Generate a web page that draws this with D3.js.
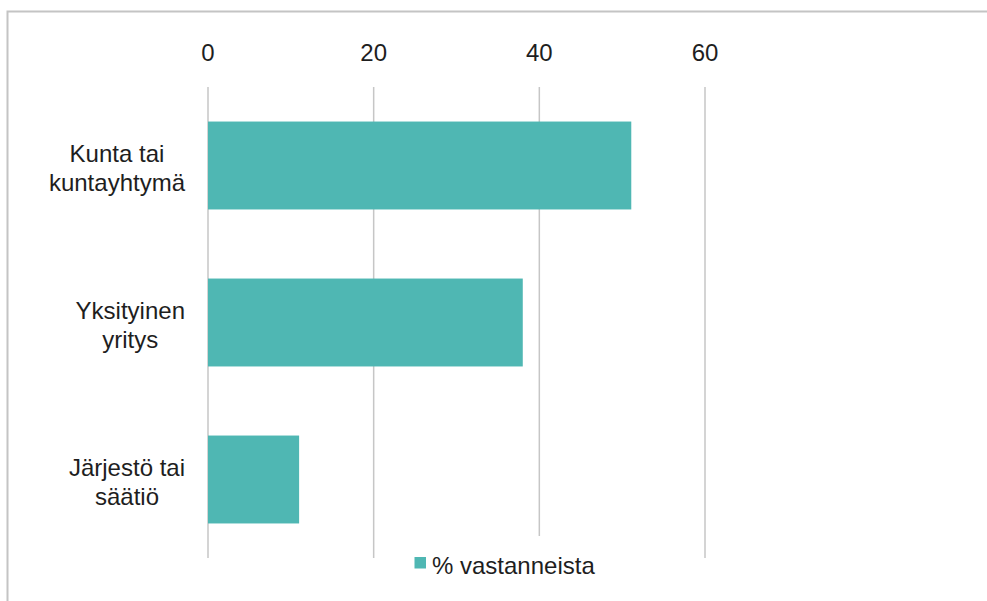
<!DOCTYPE html>
<html><head><meta charset="utf-8">
<script src="https://cdn.jsdelivr.net/npm/d3@7"></script>
<style>body{margin:0;background:#fff}svg{display:block}</style>
</head><body>
<svg id="c" width="987" height="601"></svg>
<script>
const categories = [["Kunta tai","kuntayhtymä"],["Yksityinen","yritys"],["Järjestö tai","säätiö"]];
const values = [51.1, 38.0, 11.0];
const tickValues = [0, 20, 40, 60];
const seriesName = "% vastanneista";

const svg = d3.select("#c");
const font = "'Liberation Sans', Arial, Helvetica, sans-serif";
const fs = 24;
const txt = "#1e1e1e";
const barColor = "#4fb7b3";
const gridColor = "#c6c6c6";

svg.append("rect").attr("x",7.5).attr("y",11.5).attr("width",1000).attr("height",620)
  .attr("fill","#fff").attr("stroke","#c4c4c4").attr("stroke-width",2);

const x = d3.scaleLinear().domain([0,60]).range([208,705]);
const y = d3.scaleBand().domain(categories.map((d,i)=>i)).range([87,558])
  .paddingInner(0.44).paddingOuter(0.22);

// gridlines
svg.append("g").selectAll("line").data(tickValues).join("line")
  .attr("x1",d=>x(d)).attr("x2",d=>x(d)).attr("y1",87).attr("y2",558)
  .attr("stroke",gridColor).attr("stroke-width",1.5);

// top axis labels
svg.append("g").selectAll("text").data(tickValues).join("text")
  .attr("x",d=>x(d)).attr("y",61).attr("text-anchor","middle")
  .attr("font-family",font).attr("font-size",fs).attr("fill",txt).text(d=>d);

// bars
svg.append("g").selectAll("rect").data(values).join("rect")
  .attr("x",x(0)).attr("y",(d,i)=>y(i)).attr("width",d=>x(d)-x(0)).attr("height",y.bandwidth())
  .attr("fill",barColor);

// category labels: block right-aligned, lines centered
const lab = svg.append("g");
categories.forEach((lines,i)=>{
  const cy = y(i)+y.bandwidth()/2;
  const g = lab.append("g");
  const ts = lines.map((l,j)=>g.append("text").attr("y",cy-3.3+j*28.3)
    .attr("font-family",font).attr("font-size",fs).attr("fill",txt).attr("text-anchor","middle").text(l));
  const maxW = d3.max(ts, t=>t.node().getComputedTextLength());
  ts.forEach(t=>t.attr("x",185-maxW/2));
});

// legend
const lg = svg.append("g");
lg.append("rect").attr("x",405).attr("y",536).attr("width",200).attr("height",60).attr("fill","#fff");
lg.append("rect").attr("x",414.5).attr("y",557).attr("width",11.5).attr("height",11.5).attr("fill",barColor);
lg.append("text").attr("x",432).attr("y",574).attr("font-family",font).attr("font-size",fs).attr("fill",txt).text(seriesName);
</script>
</body></html>
